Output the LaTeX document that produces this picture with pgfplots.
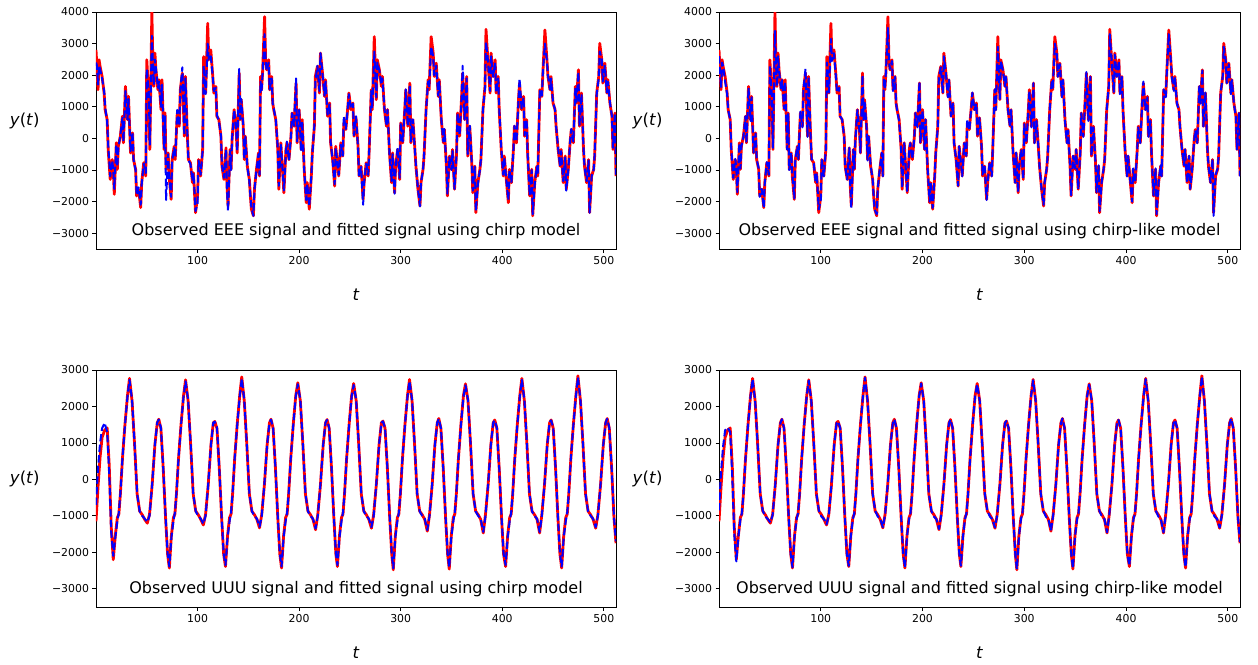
\documentclass[border=0pt]{standalone}
\usepackage{fontspec}
\setmainfont{DejaVu Sans}
\usepackage{pgfplots}
\usepackage{pgfplotstable}
\pgfplotsset{compat=1.18}

\pgfplotstableread{
t o c l
0 2800 2400 2600
1 2200 2300 2100
2 1540 1700 1600
3 2490 2300 2400
4 2280 2200 2300
6 1960 1900 1800
8 1435 1500 1400
9 910 1000 900
11 595 500 600
12 -350 -200 -300
14 -1300 -1200 -1250
16 -670 -700 -650
17 -980 -1000 -950
18 -1770 -1600 -1700
20 -140 -200 -150
21 -980 -900 -950
22 -250 -300 -250
24 70 100 50
26 700 650 700
27 -140 -100 -150
29 1645 1500 1600
31 595 600 550
32 1330 1250 1300
34 -460 -400 -450
36 175 200 150
37 -670 -700 -650
39 -980 -1000 -950
40 -1820 -1800 -1850
42 -1610 -1550 -1600
44 -2190 -2100 -2200
45 -1400 -1450 -1400
47 -770 -800 -750
49 -1190 -1100 -1150
50 2486 2200 2300
52 1330 1400 1350
53 -350 -200 -300
55 4010 3250 3400
56 2380 2400 2350
57 1645 1700 1650
58 2700 2500 2600
59 2170 2200 2150
61 1540 1600 1550
62 1855 1800 1850
64 910 1000 950
65 1855 1700 1800
67 -350 -300 -350
68 805 700 800
69 -980 -1950 -1000
71 -460 -500 -450
72 -1190 -1200 -1150
74 -1930 -1850 -1900
75 -670 -700 -650
77 -250 -300 -250
78 -670 -600 -650
80 805 900 850
82 385 400 350
83 1540 1500 1550
85 2066 2250 2200
87 70 100 50
88 1960 1900 1950
90 70 100 50
91 -670 -700 -650
93 -770 -800 -750
95 -1400 -1350 -1400
96 -1090 -1100 -1100
98 -2350 -2300 -2250
100 -1820 -2050 -1950
101 -670 -700 -650
103 -1190 -1150 -1200
105 -350 -400 -350
106 2590 2300 2400
108 1435 1400 1450
110 3640 3000 3150
111 2486 2500 2450
113 2800 2600 2700
115 1960 1950 1900
116 1435 1500 1450
118 1645 1600 1600
119 700 750 700
121 595 550 600
123 70 100 50
124 -880 -850 -900
126 -1300 -1250 -1300
128 -300 -350 -300
129 -1500 -1600 -1500
130 -2140 -2300 -2200
132 -350 -400 -350
133 -980 -1000 -950
134 -35 0 -50
136 910 900 900
138 280 300 250
139 -460 -400 -450
141 2066 2200 2000
142 595 600 600
143 1225 1250 1200
145 385 400 350
146 -670 -650 -700
147 70 50 100
149 -880 -900 -850
151 -1300 -1350 -1300
152 -1820 -1800 -1850
153 -2240 -2200 -2250
155 -2450 -2450 -2400
156 -1610 -1650 -1600
158 -980 -1000 -950
160 -460 -500 -450
161 -1190 -1150 -1200
162 1960 1800 1900
163 1540 1500 1550
164 2066 2050 2100
166 3850 3300 3500
167 2486 2500 2450
168 2170 2150 2200
170 2486 2400 2450
171 1540 1550 1500
173 1960 1900 1950
174 1120 1100 1100
175 910 950 900
177 595 600 550
179 -350 -300 -350
180 -1610 -1500 -1550
182 -140 -200 -150
184 -1190 -1150 -1200
185 -1720 -1650 -1700
187 -350 -400 -350
188 -140 -100 -150
190 -670 -700 -650
192 70 100 50
193 805 800 800
195 385 400 350
197 1750 1900 1800
198 -140 -100 -150
200 910 900 900
202 -350 -400 -350
203 595 550 600
205 -980 -1000 -950
207 -2035 -1950 -2000
208 -1400 -1450 -1400
210 -2240 -2150 -2200
212 -1190 -1200 -1150
213 -460 -500 -450
215 385 400 350
216 1960 1800 1900
218 2280 2300 2250
220 1435 1500 1450
221 2700 2700 2600
223 2066 2050 2050
225 1330 1350 1300
226 1855 1800 1850
228 700 750 700
230 1120 1100 1100
231 -140 -100 -150
233 -670 -700 -650
235 -1510 -1450 -1500
236 -250 -300 -250
238 -880 -900 -850
239 -1190 -1150 -1200
241 -140 -200 -150
243 -560 -550 -550
244 490 700 600
246 280 300 250
248 1015 1000 1000
249 1435 1400 1450
251 910 950 900
253 1120 1100 1100
254 70 100 50
256 650 700 650
258 -250 -300 -250
259 -1190 -1200 -1150
261 -880 -900 -850
263 -1930 -2100 -1950
264 -1400 -1400 -1400
266 -770 -800 -750
268 -1190 -1150 -1200
269 -350 -400 -350
271 1540 1500 1550
272 910 950 900
274 3220 2750 2900
276 1225 1300 1250
277 2486 2400 2450
279 2170 2150 2150
281 1645 1700 1650
282 1960 1900 1950
284 910 950 900
286 385 400 350
287 910 900 900
289 -460 -500 -450
291 -1400 -1350 -1400
292 -460 -500 -450
294 -1720 -1750 -1700
295 -880 -900 -850
297 -350 -300 -350
299 -1300 -1250 -1300
300 490 500 450
302 -140 -100 -150
304 910 900 900
305 1540 1550 1500
307 385 400 350
309 1750 1700 1750
310 -140 -100 -150
312 595 600 550
314 -350 -400 -350
315 -880 -850 -900
317 -1610 -1600 -1600
319 -2140 -2150 -2100
320 -1400 -1400 -1400
322 -980 -1000 -950
323 -560 -500 -550
325 910 900 900
327 1855 1800 1850
328 1540 1600 1550
330 3220 2900 3000
332 2700 2600 2650
333 1960 2000 1950
335 2380 2300 2350
337 1330 1350 1300
338 1855 1800 1850
340 595 600 550
342 -140 -100 -150
343 280 300 250
345 -880 -900 -850
346 -1820 -1750 -1800
348 -560 -600 -550
350 -980 -1000 -950
351 -350 -400 -350
353 -1610 -1600 -1600
355 -460 -500 -450
356 805 800 800
358 70 100 50
360 1330 1300 1300
361 2066 2300 2100
363 595 600 550
365 1960 1900 1950
366 -560 -500 -550
368 385 400 350
370 -770 -800 -750
371 -1720 -1650 -1700
373 -880 -900 -850
374 -2350 -2300 -2300
376 -1400 -1450 -1400
378 -980 -1000 -950
379 -670 -650 -650
381 910 900 900
383 1645 1600 1650
384 3450 3050 3300
386 2400 2450 2400
388 1435 1500 1450
389 2700 2600 2650
391 1960 1950 1950
393 2486 2400 2450
394 1435 1450 1400
396 1960 1900 1950
397 910 950 900
399 -350 -300 -350
401 -1190 -1150 -1200
402 -560 -600 -550
404 -1300 -1300 -1300
406 -2035 -1950 -2000
407 -980 -1000 -950
409 -1400 -1400 -1400
411 -350 -400 -350
412 385 400 350
414 -140 -100 -150
416 1225 1200 1200
417 1750 1900 1800
419 910 950 900
421 1330 1300 1300
422 70 100 50
424 595 600 550
425 -460 -500 -450
427 -1820 -1800 -1800
429 -980 -1000 -950
430 -2450 -2400 -2400
432 -1400 -1450 -1400
434 -880 -900 -850
435 -1190 -1150 -1200
437 1540 1500 1550
439 1330 1350 1300
440 2066 2100 2050
442 3430 3000 3300
444 2486 2450 2450
445 1960 2000 1950
447 1540 1550 1500
448 1960 1900 1950
450 1120 1150 1100
452 910 900 900
453 385 400 350
455 -350 -300 -350
457 -880 -900 -850
458 -350 -400 -350
460 -1400 -1350 -1400
462 -560 -600 -550
463 -1610 -1650 -1600
465 -980 -1000 -950
467 -35 0 -50
468 280 300 250
470 -140 -100 -150
472 1645 1600 1650
473 1120 1150 1100
475 2170 2100 2150
476 385 400 350
478 1435 1400 1450
480 -350 -300 -350
481 -880 -900 -850
483 -1400 -1350 -1400
485 -670 -700 -650
486 -2350 -2350 -2450
488 -1190 -1200 -1150
490 -980 -1000 -950
491 -560 -500 -550
493 1435 1400 1450
495 1960 1900 1950
496 3010 2750 2900
498 2486 2500 2450
499 1750 1800 1750
501 2380 2300 2350
503 1435 1450 1400
504 1855 1800 1850
506 1120 1150 1100
508 700 700 650
509 -350 -300 -350
511 805 800 800
512 -1190 -1150 -1200
}\eee

\pgfplotstableread{
t o c l
0 -1150 -700 -850
2 -200 300 200
4 600 1000 900
6 1150 1400 1350
8.5 1350 1550 1420
11 1410 1300 1300
13 400 200 100
15 -1300 -1450 -1500
17 -2200 -2100 -2250
19 -1550 -1600 -1580
21 -1050 -1150 -1100
22.5 -950 -900 -920
24 -400 -380 -420
26 550 560 540
28.5 1500 1480 1490
31 2300 2270 2290
33 2770 2730 2750
35.5 2150 2180 2160
38 950 980 960
40.5 -400 -380 -390
43 -870 -880 -860
45.5 -970 -1000 -1020
48 -1100 -1080 -1090
50.5 -1200 -1170 -1180
52.7 -960 -1000 -980
55.3 -150 -120 -140
58 950 960 940
60.3 1550 1560 1540
61.8 1650 1640 1650
63.9 1400 1420 1410
66.2 300 320 310
68.5 -1050 -1030 -1040
70.5 -2050 -2030 -2060
72.2 -2430 -2390 -2410
74.2 -1550 -1600 -1580
76.2 -1050 -1150 -1100
77.7 -950 -900 -920
79.2 -400 -380 -420
81.2 550 560 540
83.7 1500 1480 1490
86.2 2300 2270 2290
88.2 2730 2690 2710
90.7 2150 2180 2160
93.2 950 980 960
95.7 -400 -380 -390
98.2 -870 -880 -860
100.7 -970 -1000 -1020
103.2 -1100 -1080 -1090
105.7 -1250 -1220 -1230
107.9 -960 -1000 -980
110.5 -150 -120 -140
113.2 950 960 940
115.5 1550 1560 1540
117 1590 1580 1590
119.1 1400 1420 1410
121.4 300 320 310
123.7 -1050 -1030 -1040
125.7 -2050 -2030 -2060
127.5 -2390 -2350 -2370
129.5 -1550 -1600 -1580
131.5 -1050 -1150 -1100
133 -950 -900 -920
134.5 -400 -380 -420
136.5 550 560 540
139 1500 1480 1490
141.5 2300 2270 2290
143.5 2810 2770 2790
146 2150 2180 2160
148.5 950 980 960
151 -400 -380 -390
153.5 -870 -880 -860
156 -970 -1000 -1020
158.5 -1100 -1080 -1090
161 -1330 -1300 -1310
163.2 -960 -1000 -980
165.8 -150 -120 -140
168.5 950 960 940
170.8 1550 1560 1540
172.3 1650 1640 1650
174.4 1400 1420 1410
176.7 300 320 310
179 -1050 -1030 -1040
181 -2050 -2030 -2060
182.7 -2430 -2390 -2410
184.7 -1550 -1600 -1580
186.7 -1050 -1150 -1100
188.2 -950 -900 -920
189.7 -400 -380 -420
191.7 550 560 540
194.2 1500 1480 1490
196.7 2300 2270 2290
198.7 2650 2610 2630
201.2 2150 2180 2160
203.7 950 980 960
206.2 -400 -380 -390
208.7 -870 -880 -860
211.2 -970 -1000 -1020
213.7 -1100 -1080 -1090
216.2 -1380 -1350 -1360
218.4 -960 -1000 -980
221 -150 -120 -140
223.7 950 960 940
226 1550 1560 1540
227.5 1640 1630 1640
229.6 1400 1420 1410
231.9 300 320 310
234.2 -1050 -1030 -1040
236.2 -2050 -2030 -2060
237.7 -2390 -2350 -2370
239.7 -1550 -1600 -1580
241.7 -1050 -1150 -1100
243.2 -950 -900 -920
244.7 -400 -380 -420
246.7 550 560 540
249.2 1500 1480 1490
251.7 2300 2270 2290
253.7 2630 2590 2610
256.2 2150 2180 2160
258.7 950 980 960
261.2 -400 -380 -390
263.7 -870 -880 -860
266.2 -970 -1000 -1020
268.7 -1100 -1080 -1090
271.2 -1340 -1310 -1320
273.4 -960 -1000 -980
276 -150 -120 -140
278.7 950 960 940
281 1550 1560 1540
282.5 1600 1590 1600
284.6 1400 1420 1410
286.9 300 320 310
289.2 -1050 -1030 -1040
291.2 -2050 -2030 -2060
292.7 -2480 -2440 -2460
294.7 -1550 -1600 -1580
296.7 -1050 -1150 -1100
298.2 -950 -900 -920
299.7 -400 -380 -420
301.7 550 560 540
304.2 1500 1480 1490
306.7 2300 2270 2290
308.7 2740 2700 2720
311.2 2150 2180 2160
313.7 950 980 960
316.2 -400 -380 -390
318.7 -870 -880 -860
321.2 -970 -1000 -1020
323.7 -1100 -1080 -1090
326.2 -1420 -1390 -1400
328.4 -960 -1000 -980
331 -150 -120 -140
333.7 950 960 940
336 1550 1560 1540
337.5 1670 1660 1670
339.6 1400 1420 1410
341.9 300 320 310
344.2 -1050 -1030 -1040
346.2 -2050 -2030 -2060
347.8 -2460 -2420 -2440
349.8 -1550 -1600 -1580
351.8 -1050 -1150 -1100
353.3 -950 -900 -920
354.8 -400 -380 -420
356.8 550 560 540
359.3 1500 1480 1490
361.8 2300 2270 2290
363.8 2620 2580 2600
366.3 2150 2180 2160
368.8 950 980 960
371.3 -400 -380 -390
373.8 -870 -880 -860
376.3 -970 -1000 -1020
378.8 -1100 -1080 -1090
381.3 -1470 -1440 -1450
383.5 -960 -1000 -980
386.1 -150 -120 -140
388.8 950 960 940
391.1 1550 1560 1540
392.6 1630 1620 1630
394.7 1400 1420 1410
397 300 320 310
399.3 -1050 -1030 -1040
401.3 -2050 -2030 -2060
403.3 -2390 -2350 -2370
405.3 -1550 -1600 -1580
407.3 -1050 -1150 -1100
408.8 -950 -900 -920
410.3 -400 -380 -420
412.3 550 560 540
414.8 1500 1480 1490
417.3 2300 2270 2290
419.3 2770 2730 2750
421.8 2150 2180 2160
424.3 950 980 960
426.8 -400 -380 -390
429.3 -870 -880 -860
431.8 -970 -1000 -1020
434.3 -1100 -1080 -1090
436.8 -1470 -1440 -1450
439 -960 -1000 -980
441.6 -150 -120 -140
444.3 950 960 940
446.6 1550 1560 1540
448.1 1630 1620 1630
450.2 1400 1420 1410
452.5 300 320 310
454.8 -1050 -1030 -1040
456.8 -2050 -2030 -2060
458.5 -2430 -2390 -2410
460.5 -1550 -1600 -1580
462.5 -1050 -1150 -1100
464 -950 -900 -920
465.5 -400 -380 -420
467.5 550 560 540
470 1500 1480 1490
472.5 2300 2270 2290
474.5 2840 2800 2820
477 2150 2180 2160
479.5 950 980 960
482 -400 -380 -390
484.5 -870 -880 -860
487 -970 -1000 -1020
489.5 -1100 -1080 -1090
492 -1340 -1310 -1320
494.2 -960 -1000 -980
496.8 -150 -120 -140
499.5 950 960 940
501.8 1550 1560 1540
503.3 1670 1660 1670
505.4 1400 1420 1410
507.7 300 320 310
510 -1050 -1030 -1040
512 -1750 -1700 -1720
}\uuu

\pgfplotsset{
  sig/.style={
    scale only axis, width=520pt, height=237pt,
    anchor=north west,
    xmin=0, xmax=512, ymin=-3500,
    xtick={100,200,300,400,500},
    xticklabels={100,200,300,400,500},
    tick align=outside, xtick pos=bottom, ytick pos=left,
    major tick length=3.5pt,
    tick style={black, line width=0.8pt},
    axis line style={line width=0.8pt},
    every tick label/.append style={font=\fontsize{10.9}{12}\selectfont},
    xlabel={\textit{t}}, ylabel={\textit{y}(\textit{t})},
    xlabel style={font=\fontsize{16.5}{18}\selectfont, at={(axis description cs:0.5,-0.194)}, anchor=center},
    ylabel style={font=\fontsize{16.5}{18}\selectfont, rotate=-90, at={(axis description cs:-0.137,0.54)}, anchor=center},
  },
  eeeax/.style={sig, ymax=4000,
    ytick={-3000,-2000,-1000,0,1000,2000,3000,4000},
    yticklabels={−3000,−2000,−1000,0,1000,2000,3000,4000}},
  uuuax/.style={sig, ymax=3000,
    ytick={-3000,-2000,-1000,0,1000,2000,3000},
    yticklabels={−3000,−2000,−1000,0,1000,2000,3000}},
  obs/.style={color=red, line width=2.8pt, line join=round, mark=none},
  fit/.style={color=blue, line width=2pt, line join=round, mark=none, dash pattern=on 7.4pt off 3.2pt},
}

\begin{document}
\begin{tikzpicture}
\useasboundingbox (0,0) rectangle (1258pt,-664pt);

\begin{axis}[eeeax, at={(96pt,-12pt)}]
\addplot[obs] table[x=t, y=o] {\eee};
\addplot[fit] table[x=t, y=c] {\eee};
\node[font=\fontsize{16}{18}\selectfont] at (axis description cs:0.5,0.076) {Observed EEE signal and fitted signal using chirp model};
\end{axis}

\begin{axis}[eeeax, width=521pt, at={(719pt,-12pt)}]
\addplot[obs] table[x=t, y=o] {\eee};
\addplot[fit] table[x=t, y=l] {\eee};
\node[font=\fontsize{16}{18}\selectfont] at (axis description cs:0.5,0.076) {Observed EEE signal and fitted signal using chirp-like model};
\end{axis}

\begin{axis}[uuuax, at={(96pt,-370pt)}]
\addplot[obs] table[x=t, y=o] {\uuu};
\addplot[fit] table[x=t, y=c] {\uuu};
\node[font=\fontsize{16}{18}\selectfont] at (axis description cs:0.5,0.076) {Observed UUU signal and fitted signal using chirp model};
\end{axis}

\begin{axis}[uuuax, width=521pt, at={(719pt,-370pt)}]
\addplot[obs] table[x=t, y=o] {\uuu};
\addplot[fit] table[x=t, y=l] {\uuu};
\node[font=\fontsize{16}{18}\selectfont] at (axis description cs:0.5,0.076) {Observed UUU signal and fitted signal using chirp-like model};
\end{axis}
\end{tikzpicture}
\end{document}
